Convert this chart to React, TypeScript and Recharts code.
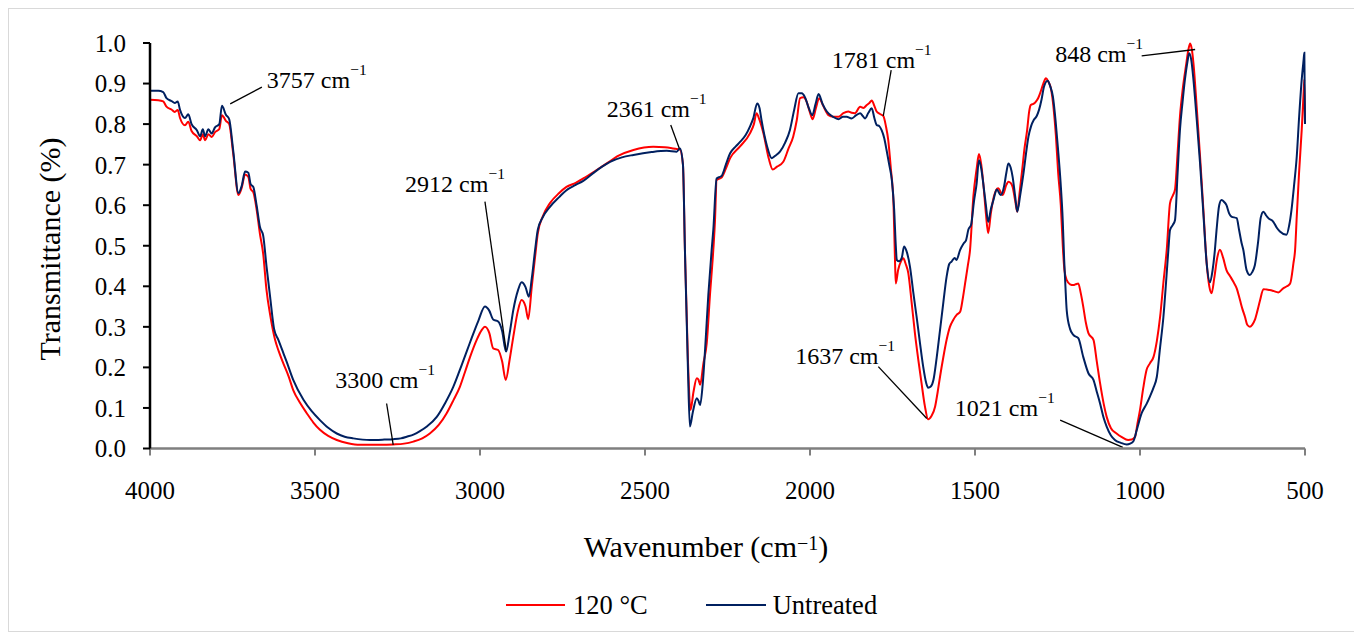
import { LineChart, Line, XAxis, YAxis, ReferenceLine, ReferenceDot } from "recharts"

const FONT = '"Liberation Serif", "Times New Roman", serif'

// [wavenumber (cm-1), transmittance]
const heated: [number, number][] = [
  [4000, 0.86], [3975, 0.859], [3960, 0.856], [3950, 0.843], [3935, 0.836], [3925, 0.83], [3916, 0.835],
  [3909, 0.815], [3894, 0.797], [3884, 0.806], [3874, 0.783], [3858, 0.77], [3848, 0.76], [3840, 0.775],
  [3833, 0.76], [3823, 0.775], [3813, 0.768], [3803, 0.78], [3790, 0.788], [3782, 0.822], [3770, 0.808],
  [3760, 0.8], [3748, 0.728], [3732, 0.625], [3722, 0.643], [3712, 0.676], [3702, 0.67], [3695, 0.64],
  [3687, 0.632], [3677, 0.59], [3667, 0.53], [3657, 0.48], [3647, 0.391], [3636, 0.33], [3621, 0.268],
  [3610, 0.24], [3596, 0.21], [3580, 0.178], [3566, 0.144], [3545, 0.112], [3525, 0.087], [3505, 0.064],
  [3485, 0.046], [3460, 0.031], [3434, 0.021], [3400, 0.013], [3364, 0.009], [3300, 0.009], [3263, 0.01],
  [3230, 0.012], [3202, 0.017], [3175, 0.025], [3152, 0.037], [3125, 0.058], [3101, 0.087], [3080, 0.12],
  [3061, 0.152], [3045, 0.19], [3030, 0.226], [3010, 0.268], [2995, 0.292], [2985, 0.3], [2972, 0.285],
  [2960, 0.247], [2945, 0.243], [2933, 0.215], [2922, 0.169], [2910, 0.22], [2899, 0.276], [2885, 0.34],
  [2874, 0.366], [2862, 0.35], [2854, 0.319], [2843, 0.4], [2833, 0.473], [2825, 0.53], [2810, 0.572],
  [2788, 0.605], [2760, 0.63], [2738, 0.645], [2710, 0.655], [2687, 0.666], [2650, 0.685], [2616, 0.703],
  [2580, 0.722], [2535, 0.736], [2475, 0.744], [2440, 0.743], [2414, 0.74], [2394, 0.737], [2385, 0.7],
  [2379, 0.49], [2370, 0.22], [2362, 0.095], [2353, 0.14], [2343, 0.173], [2338, 0.17], [2333, 0.157],
  [2323, 0.21], [2313, 0.259], [2303, 0.38], [2293, 0.49], [2288, 0.56], [2283, 0.662], [2268, 0.668],
  [2255, 0.69], [2242, 0.716], [2212, 0.745], [2182, 0.777], [2170, 0.8], [2162, 0.827], [2155, 0.815],
  [2141, 0.777], [2125, 0.715], [2113, 0.688], [2100, 0.695], [2081, 0.707], [2065, 0.74], [2051, 0.769],
  [2040, 0.81], [2030, 0.864], [2020, 0.866], [2010, 0.855], [2000, 0.828], [1992, 0.812], [1982, 0.84],
  [1972, 0.864], [1960, 0.845], [1944, 0.822], [1930, 0.818], [1914, 0.818], [1899, 0.827], [1884, 0.831],
  [1874, 0.828], [1864, 0.827], [1848, 0.843], [1838, 0.84], [1828, 0.847], [1820, 0.852], [1813, 0.858],
  [1805, 0.845], [1798, 0.831], [1788, 0.825], [1778, 0.82], [1770, 0.795], [1763, 0.761], [1755, 0.69],
  [1747, 0.605], [1742, 0.45], [1740, 0.407], [1733, 0.44], [1724, 0.462], [1717, 0.469], [1710, 0.455],
  [1702, 0.432], [1692, 0.36], [1682, 0.284], [1672, 0.22], [1662, 0.161], [1652, 0.105], [1642, 0.072],
  [1632, 0.08], [1621, 0.103], [1613, 0.14], [1606, 0.177], [1596, 0.225], [1586, 0.268], [1576, 0.3],
  [1566, 0.317], [1555, 0.33], [1545, 0.337], [1537, 0.37], [1530, 0.407], [1522, 0.45], [1515, 0.49],
  [1505, 0.621], [1495, 0.69], [1488, 0.726], [1481, 0.7], [1474, 0.646], [1467, 0.58], [1460, 0.531],
  [1452, 0.58], [1443, 0.621], [1430, 0.642], [1416, 0.625], [1405, 0.65], [1399, 0.658], [1392, 0.655],
  [1386, 0.645], [1378, 0.61], [1372, 0.584], [1365, 0.63], [1357, 0.687], [1350, 0.74], [1342, 0.785],
  [1336, 0.83], [1331, 0.847], [1323, 0.85], [1316, 0.855], [1308, 0.865], [1301, 0.88], [1293, 0.9],
  [1285, 0.913], [1278, 0.905], [1270, 0.888], [1262, 0.84], [1255, 0.773], [1248, 0.68], [1240, 0.6],
  [1234, 0.5], [1229, 0.44], [1222, 0.415], [1212, 0.405], [1202, 0.403], [1195, 0.405], [1187, 0.407],
  [1180, 0.385], [1172, 0.35], [1164, 0.31], [1156, 0.284], [1141, 0.268], [1131, 0.215], [1121, 0.161],
  [1110, 0.11], [1101, 0.078], [1088, 0.05], [1071, 0.037], [1055, 0.028], [1036, 0.021], [1025, 0.022],
  [1015, 0.029], [1008, 0.06], [1000, 0.095], [990, 0.15], [980, 0.194], [970, 0.21], [959, 0.226],
  [949, 0.265], [939, 0.325], [929, 0.41], [919, 0.49], [909, 0.605], [900, 0.625], [894, 0.638],
  [886, 0.73], [879, 0.818], [870, 0.89], [861, 0.942], [853, 0.985], [848, 0.999], [843, 0.985],
  [838, 0.95], [828, 0.84], [818, 0.72], [808, 0.59], [798, 0.457], [790, 0.4], [783, 0.383], [775, 0.42],
  [766, 0.47], [758, 0.49], [748, 0.47], [738, 0.44], [727, 0.425], [717, 0.411], [707, 0.395], [697, 0.366],
  [690, 0.345], [682, 0.325], [675, 0.305], [667, 0.3], [660, 0.305], [652, 0.317], [644, 0.34], [636, 0.366],
  [626, 0.393], [616, 0.392], [606, 0.391], [594, 0.388], [581, 0.385], [566, 0.395], [555, 0.4], [545, 0.407],
  [535, 0.457], [530, 0.49], [525, 0.572], [518, 0.68], [510, 0.785], [504, 0.88], [502, 0.91], [500, 0.8],
]

const untreated: [number, number][] = [
  [4000, 0.882], [3975, 0.882], [3960, 0.879], [3950, 0.864], [3935, 0.857], [3925, 0.852], [3916, 0.856],
  [3909, 0.835], [3894, 0.815], [3884, 0.824], [3874, 0.8], [3858, 0.785], [3848, 0.77], [3840, 0.787],
  [3833, 0.77], [3823, 0.787], [3813, 0.777], [3803, 0.792], [3790, 0.8], [3782, 0.845], [3770, 0.823],
  [3760, 0.812], [3748, 0.736], [3732, 0.63], [3722, 0.648], [3712, 0.683], [3702, 0.68], [3695, 0.652],
  [3687, 0.645], [3677, 0.6], [3667, 0.547], [3657, 0.525], [3647, 0.45], [3636, 0.374], [3624, 0.295],
  [3611, 0.268], [3598, 0.24], [3586, 0.214], [3566, 0.169], [3535, 0.12], [3510, 0.092], [3485, 0.07],
  [3460, 0.051], [3434, 0.037], [3410, 0.029], [3384, 0.025], [3333, 0.021], [3290, 0.022], [3263, 0.023],
  [3240, 0.025], [3222, 0.029], [3200, 0.035], [3182, 0.043], [3160, 0.055], [3131, 0.078], [3105, 0.113],
  [3081, 0.152], [3055, 0.207], [3030, 0.262], [3005, 0.315], [2985, 0.35], [2972, 0.34], [2960, 0.318],
  [2945, 0.313], [2933, 0.29], [2921, 0.239], [2910, 0.285], [2899, 0.342], [2885, 0.39], [2874, 0.41],
  [2862, 0.398], [2852, 0.374], [2843, 0.42], [2833, 0.49], [2825, 0.539], [2810, 0.57], [2788, 0.596],
  [2760, 0.62], [2738, 0.637], [2710, 0.65], [2687, 0.66], [2657, 0.679], [2630, 0.695], [2606, 0.707],
  [2570, 0.718], [2535, 0.724], [2480, 0.731], [2434, 0.734], [2404, 0.732], [2394, 0.74], [2385, 0.7],
  [2379, 0.49], [2370, 0.2], [2364, 0.054], [2355, 0.09], [2343, 0.124], [2338, 0.118], [2333, 0.107],
  [2325, 0.16], [2318, 0.243], [2308, 0.38], [2298, 0.49], [2293, 0.539], [2283, 0.666], [2273, 0.67],
  [2268, 0.672], [2255, 0.7], [2242, 0.728], [2225, 0.745], [2212, 0.756], [2195, 0.773], [2182, 0.794],
  [2172, 0.814], [2160, 0.851], [2153, 0.84], [2147, 0.81], [2130, 0.745], [2116, 0.716], [2105, 0.722],
  [2091, 0.732], [2075, 0.755], [2061, 0.785], [2048, 0.835], [2035, 0.876], [2025, 0.876], [2015, 0.866],
  [2003, 0.838], [1993, 0.822], [1983, 0.85], [1974, 0.874], [1962, 0.85], [1949, 0.831], [1930, 0.818],
  [1914, 0.812], [1900, 0.818], [1889, 0.818], [1874, 0.814], [1860, 0.822], [1848, 0.827], [1840, 0.82],
  [1833, 0.814], [1823, 0.828], [1813, 0.839], [1805, 0.815], [1798, 0.798], [1790, 0.795], [1783, 0.785],
  [1775, 0.765], [1768, 0.736], [1760, 0.7], [1752, 0.662], [1745, 0.59], [1740, 0.5], [1737, 0.465],
  [1730, 0.462], [1722, 0.47], [1715, 0.498], [1708, 0.488], [1697, 0.448], [1687, 0.385], [1677, 0.325],
  [1667, 0.262], [1657, 0.202], [1648, 0.162], [1642, 0.15], [1634, 0.153], [1626, 0.169], [1616, 0.225],
  [1606, 0.292], [1596, 0.36], [1586, 0.424], [1578, 0.455], [1571, 0.461], [1562, 0.47], [1556, 0.465],
  [1545, 0.49], [1535, 0.505], [1527, 0.514], [1520, 0.54], [1512, 0.551], [1503, 0.61], [1495, 0.654],
  [1488, 0.711], [1481, 0.69], [1475, 0.654], [1467, 0.6], [1460, 0.559], [1452, 0.59], [1444, 0.613],
  [1434, 0.639], [1422, 0.625], [1412, 0.646], [1405, 0.68], [1399, 0.703], [1392, 0.693], [1386, 0.67],
  [1378, 0.62], [1372, 0.584], [1363, 0.625], [1353, 0.679], [1345, 0.73], [1338, 0.769], [1330, 0.795],
  [1322, 0.81], [1313, 0.82], [1306, 0.835], [1298, 0.862], [1291, 0.892], [1280, 0.907], [1272, 0.893],
  [1264, 0.868], [1256, 0.81], [1249, 0.744], [1241, 0.66], [1234, 0.56], [1230, 0.47], [1226, 0.4],
  [1222, 0.34], [1212, 0.295], [1202, 0.28], [1187, 0.272], [1172, 0.226], [1156, 0.185], [1141, 0.169],
  [1131, 0.14], [1121, 0.111], [1110, 0.075], [1101, 0.054], [1088, 0.032], [1076, 0.021], [1058, 0.014],
  [1040, 0.01], [1030, 0.012], [1020, 0.018], [1010, 0.045], [995, 0.087], [980, 0.11], [970, 0.128],
  [959, 0.15], [949, 0.177], [939, 0.25], [929, 0.325], [921, 0.41], [914, 0.49], [909, 0.539], [900, 0.552],
  [894, 0.563], [886, 0.68], [879, 0.785], [871, 0.855], [864, 0.909], [856, 0.955], [851, 0.975],
  [844, 0.955], [838, 0.909], [828, 0.81], [818, 0.703], [808, 0.58], [798, 0.457], [788, 0.41], [780, 0.44],
  [773, 0.49], [768, 0.539], [760, 0.6], [753, 0.613], [745, 0.608], [738, 0.6], [730, 0.58], [723, 0.572],
  [707, 0.568], [700, 0.54], [692, 0.506], [687, 0.49], [677, 0.44], [667, 0.428], [660, 0.435], [652, 0.452],
  [642, 0.51], [634, 0.57], [626, 0.584], [618, 0.575], [611, 0.568], [596, 0.559], [586, 0.545], [576, 0.535],
  [556, 0.527], [548, 0.55], [541, 0.588], [533, 0.65], [525, 0.72], [518, 0.815], [510, 0.909], [504, 0.96],
  [502, 0.976], [500, 0.8],
]

const xTicks = [4000, 3500, 3000, 2500, 2000, 1500, 1000, 500]
const yTicks = [0, 0.1, 0.2, 0.3, 0.4, 0.5, 0.6, 0.7, 0.8, 0.9, 1.0]

// peak labels: text start point and leader line, in data units
const annotations = [
  { text: "3757", tx: 3646, ty: 0.91, line: [3757, 0.85, 3661, 0.891] },
  { text: "2912", tx: 3227, ty: 0.654, line: [2985, 0.609, 2921, 0.243] },
  { text: "3300", tx: 3439, ty: 0.169, line: [3283, 0.111, 3263, 0.009] },
  { text: "2361", tx: 2616, ty: 0.838, line: [2422, 0.798, 2396, 0.74] },
  { text: "1781", tx: 1934, ty: 0.958, line: [1754, 0.933, 1778, 0.82] },
  { text: "1637", tx: 2045, ty: 0.23, line: [1793, 0.202, 1646, 0.074] },
  { text: "1021", tx: 1561, ty: 0.102, line: [1242, 0.07, 1052, 0.003] },
  { text: "848", tx: 1257, ty: 0.975, line: [995, 0.968, 833, 0.984] },
]

const toPoints = (rows: [number, number][]) => rows.map(([wn, t]) => ({ wn, t }))

const W = 1346
const H = 622

function XTitle({ viewBox }: any) {
  const x = viewBox.x + 556
  const y = viewBox.y + 108.5
  return (
    <text x={x} y={y} textAnchor="middle" fontFamily={FONT} fontSize={30} fill="#000">
      Wavenumber (cm
      <tspan fontSize={20} dy={-7}>−1</tspan>
      <tspan dy={7}>)</tspan>
    </text>
  )
}

function YTitle() {
  return (
    <text x={51} y={240} textAnchor="middle" fontFamily={FONT} fontSize={30} fill="#000" transform="rotate(-90, 51, 240)">
      Transmittance (%)
    </text>
  )
}

function PeakText(props: any) {
  const { cx, cy, label } = props
  return (
    <text x={cx} y={cy} dy="0.35em" fontFamily={FONT} fontSize={24} fill="#000">
      {label} cm
      <tspan fontSize={15.5} dy={-13}>−1</tspan>
    </text>
  )
}

export default function App() {
  return (
    <div style={{ position: "relative", width: W, height: H, border: "1px solid #d9d9d9", fontFamily: FONT }}>
      <LineChart width={W} height={H} margin={{ top: 34, right: 50, left: 0, bottom: 0 }}>
        <XAxis
          type="number"
          dataKey="wn"
          domain={[500, 4000]}
          reversed
          ticks={xTicks}
          height={182.5}
          tickSize={7}
          tickMargin={26}
          axisLine={{ stroke: "#7f7f7f", strokeWidth: 2.5 }}
          tickLine={{ stroke: "#7f7f7f", strokeWidth: 2 }}
          tick={{ fill: "#000", fontSize: 25, fontFamily: FONT }}
          label={{ content: XTitle }}
        />
        <YAxis
          type="number"
          domain={[0, 1]}
          ticks={yTicks}
          width={141}
          tickSize={7}
          tickMargin={17}
          tickFormatter={(v: number) => v.toFixed(1)}
          axisLine={{ stroke: "#000", strokeWidth: 2.5 }}
          tickLine={{ stroke: "#000", strokeWidth: 2 }}
          tick={{ fill: "#000", fontSize: 25, fontFamily: FONT }}
          label={{ content: YTitle }}
        />
        <Line
          data={toPoints(heated)}
          dataKey="t"
          name="120 °C"
          type="monotone"
          stroke="#ff0000"
          strokeWidth={2}
          dot={false}
          activeDot={false}
          isAnimationActive={false}
        />
        <Line
          data={toPoints(untreated)}
          dataKey="t"
          name="Untreated"
          type="monotone"
          stroke="#002060"
          strokeWidth={2}
          dot={false}
          activeDot={false}
          isAnimationActive={false}
        />
        {annotations.map((a) => (
          <ReferenceLine
            key={"l" + a.text}
            segment={[{ x: a.line[0], y: a.line[1] }, { x: a.line[2], y: a.line[3] }]}
            stroke="#000"
            strokeWidth={1.3}
            ifOverflow="visible"
          />
        ))}
        {annotations.map((a) => (
          <ReferenceDot
            key={"t" + a.text}
            x={a.tx}
            y={a.ty}
            r={0}
            ifOverflow="visible"
            shape={(p: any) => <PeakText {...p} label={a.text} />}
          />
        ))}
      </LineChart>
      <div
        style={{
          position: "absolute",
          left: 497,
          top: 581,
          height: 30,
          display: "flex",
          alignItems: "center",
          fontSize: 26.5,
          color: "#000",
          whiteSpace: "nowrap",
        }}
      >
        <div style={{ width: 59, height: 2, background: "#ff0000", marginRight: 8 }} />
        <span>120 °C</span>
        <div style={{ width: 60, height: 2, background: "#002060", marginLeft: 58, marginRight: 7 }} />
        <span>Untreated</span>
      </div>
    </div>
  )
}
